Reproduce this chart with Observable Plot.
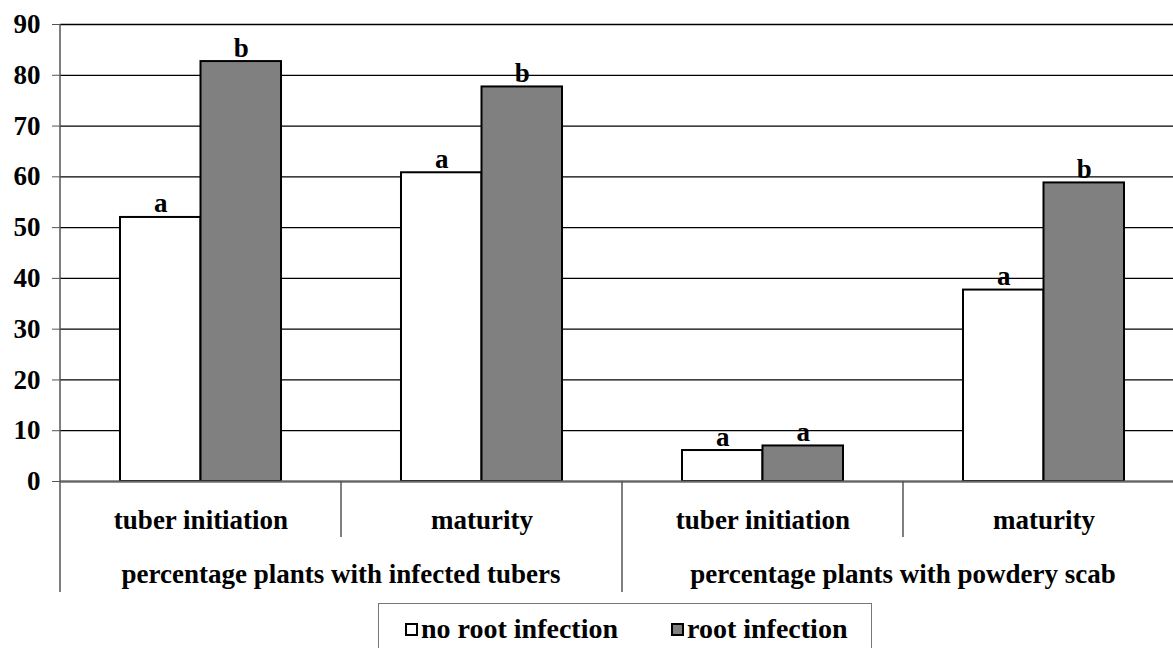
<!DOCTYPE html>
<html>
<head>
<meta charset="utf-8">
<script src="https://cdn.jsdelivr.net/npm/d3@7"></script>
<script src="https://cdn.jsdelivr.net/npm/@observablehq/plot@0.6"></script>
<style>
  html, body { margin: 0; padding: 0; background: #fff; }
  #wrap { position: relative; width: 1173px; height: 648px; overflow: hidden; }
  #legend { position: absolute; left: 378px; top: 603px; width: 494px; height: 60px; border: 1px solid #777; box-sizing: border-box; }
  .sw { position: absolute; width: 13px; height: 13px; border: 2px solid #000; box-sizing: border-box; top: 19px; }
  .lt { position: absolute; top: 11px; font-size: 28px; line-height: 28px; white-space: nowrap; color: #000; }
</style>
</head>
<body>
<div id="wrap"></div>
<script>
// ---- data ----
const groupLabels = ["percentage plants with infected tubers", "percentage plants with powdery scab"];
const stages = ["tuber initiation", "maturity", "tuber initiation", "maturity"];
const stageGroup = [0, 0, 1, 1];
const seriesNames = ["no root infection", "root infection"];
const seriesColors = ["#ffffff", "#808080"];
const noRootValues = [52.0, 60.8, 6.1, 37.7];
const rootValues = [82.7, 77.7, 7.0, 58.8];
const noRootLetters = ["a", "a", "a", "a"];
const rootLetters = ["b", "b", "a", "b"];
const yTicks = [0, 10, 20, 30, 40, 50, 60, 70, 80, 90];

const FONT = '"Liberation Serif", Tinos, "Times New Roman", serif';
const noRoot = stages.map((s, i) => ({i, v: noRootValues[i], t: noRootLetters[i]}));
const root = stages.map((s, i) => ({i, v: rootValues[i], t: rootLetters[i]}));

const X0 = 60, X1 = 1184;
const bw = (X1 - X0) / stages.length;
const outer = bw * 0.2135;
const barW = (bw - 2 * outer) / 2;

const chart = Plot.plot({
  width: 1173,
  height: 600,
  marginTop: 24,
  marginLeft: 60,
  marginRight: 0,
  marginBottom: 119,
  style: {fontFamily: FONT, fontWeight: "bold", fontSize: "27px", color: "#000", background: "#fff"},
  x: {type: "band", domain: d3.range(stages.length), range: [X0, X1], padding: 0},
  y: {domain: [0, 90]},
  marks: [
    Plot.gridY(yTicks, {stroke: "#000", strokeOpacity: 1, strokeWidth: 1.3}),
    Plot.axisY(yTicks, {tickSize: 8, tickPadding: 12, stroke: "#555", label: null, fontSize: 27}),
    Plot.axisX({tickSize: 0, tickPadding: 28, tickFormat: i => stages[i], label: null, fontSize: 27}),
    Plot.barY(noRoot, {x: "i", y: "v", insetLeft: outer, insetRight: outer + barW, fill: seriesColors[0], stroke: "#000", strokeWidth: 2}),
    Plot.barY(root, {x: "i", y: "v", insetLeft: outer + barW, insetRight: outer, fill: seriesColors[1], stroke: "#000", strokeWidth: 2}),
    Plot.ruleY([0], {stroke: "#666", strokeWidth: 2}),
    Plot.text(noRoot, {x: "i", y: "v", text: "t", dx: -barW / 2, dy: -5, lineAnchor: "bottom", fontSize: 27}),
    Plot.text(root, {x: "i", y: "v", text: "t", dx: barW / 2, dy: -5, lineAnchor: "bottom", fontSize: 27})
  ]
});

document.getElementById("wrap").appendChild(chart);

// category separators and group labels, placed from the plot's scales
const xs = chart.scale("x");
const ys = chart.scale("y");
const y0 = ys.apply(0), yTop = ys.apply(90);
const svg = d3.select(chart);
const g = svg.append("g");
const bounds = stages.map((s, i) => xs.apply(i));
bounds.push(xs.apply(stages.length - 1) + xs.bandwidth);
bounds.forEach((bx, k) => {
  const isGroupEdge = k === 0 || k === stages.length || stageGroup[k] !== stageGroup[k - 1];
  g.append("line")
    .attr("x1", bx).attr("x2", bx)
    .attr("y1", k === 0 ? yTop : y0)
    .attr("y2", isGroupEdge ? y0 + 111 : y0 + 56)
    .attr("stroke", "#555").attr("stroke-width", 1.5);
});
groupLabels.forEach((lab, gi) => {
  const idx = stageGroup.map((s, i) => s === gi ? i : -1).filter(i => i >= 0);
  const left = xs.apply(idx[0]);
  const right = xs.apply(idx[idx.length - 1]) + xs.bandwidth;
  g.append("text")
    .attr("x", (left + right) / 2)
    .attr("y", y0 + 102)
    .attr("text-anchor", "middle")
    .attr("fill", "#000")
    .text(lab);
});
svg.selectAll("text, tspan")
  .style("font-family", FONT)
  .style("font-weight", "bold")
  .style("font-size", "27px");

// legend
const legend = document.createElement("div");
legend.id = "legend";
const swX = [26, 292], txX = [42, 308];
seriesNames.forEach((name, k) => {
  const sw = document.createElement("div");
  sw.className = "sw";
  sw.style.left = swX[k] + "px";
  sw.style.background = seriesColors[k];
  legend.appendChild(sw);
  const t = document.createElement("div");
  t.className = "lt";
  t.style.left = txX[k] + "px";
  t.style.fontFamily = FONT;
  t.style.fontWeight = "bold";
  t.textContent = name;
  legend.appendChild(t);
});
document.getElementById("wrap").appendChild(legend);
</script>
</body>
</html>
